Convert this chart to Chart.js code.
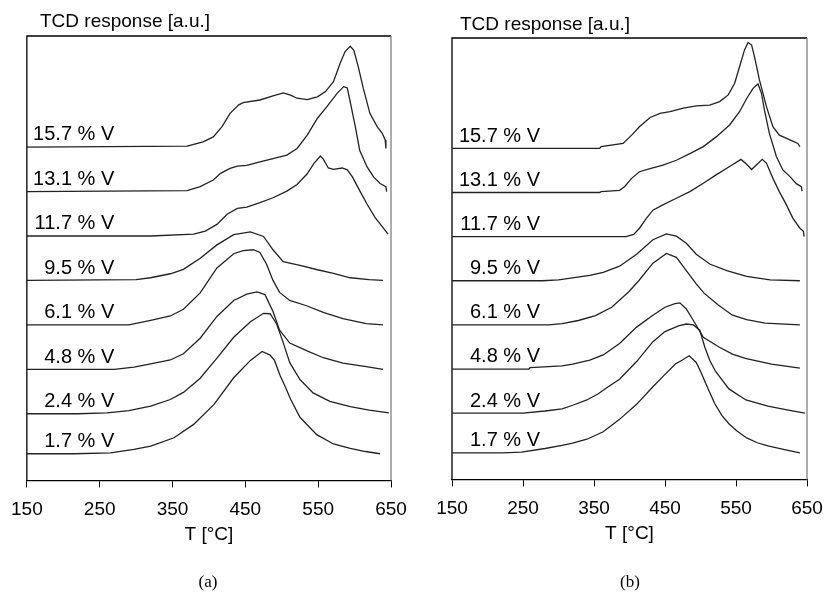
<!DOCTYPE html>
<html>
<head>
<meta charset="utf-8">
<title>TCD profiles</title>
<style>
  body { margin: 0; background: #fff; }
  #wrap { position: relative; width: 824px; height: 592px; overflow: hidden; }
  canvas { position: absolute; top: 0; }
  .ytitle { position: absolute; font: 19px/19px "Liberation Sans", Arial, sans-serif; color: #000; white-space: nowrap; }
  .cap { position: absolute; width: 40px; text-align: center; font: 17px/18px "Liberation Serif", "Times New Roman", serif; color: #000; }
</style>
</head>
<body>
<div id="wrap">
  <canvas id="chartA" width="420" height="592" style="left:0"></canvas>
  <canvas id="chartB" width="448" height="592" style="left:388px"></canvas>
  <div class="ytitle" style="left:40px; top:11px">TCD response [a.u.]</div>
  <div class="ytitle" style="left:460px; top:14px">TCD response [a.u.]</div>
  <div class="cap" style="left:188px; top:573px">(a)</div>
  <div class="cap" style="left:610px; top:573px">(b)</div>
</div>
<script src="https://cdn.jsdelivr.net/npm/chart.js@4.4.0/dist/chart.umd.min.js"></script>
<script>
// sample labels, bottom to top, and the vertical shift of each trace
const sampleLabels = ['1.7 % V', '2.4 % V', '4.8 % V', '6.1 % V', '9.5 % V', '11.7 % V', '13.1 % V', '15.7 % V'];
const offsets = [0.6, 1.5, 2.5, 3.5, 4.5, 5.5, 6.5, 7.5];
const xTicks = [150, 250, 350, 450, 550, 650];

// panel (a): [T in °C, signal above baseline]
const a17 = [[150,0],[215,0],[265,0.02],[297,0.1],[320,0.17],[352,0.36],[379,0.66],[407,1.11],[434,1.71],[457,2.1],[473,2.3],[484,2.22],[490,2.1],[498,1.75],[505,1.5],[512,1.23],[525,0.82],[548,0.43],[571,0.22],[594,0.12],[615,0.05],[635,0]];
const a24 = [[150,0],[220,0],[260,0.02],[290,0.07],[320,0.17],[347,0.32],[365,0.48],[388,0.8],[411,1.25],[434,1.72],[457,2.07],[475,2.26],[484,2.25],[493,2.02],[502,1.6],[511,1.15],[525,0.77],[543,0.47],[566,0.28],[594,0.16],[620,0.08],[647,0.02]];
const a48 = [[150,0],[270,0],[297,0.05],[320,0.12],[347,0.21],[365,0.35],[388,0.7],[411,1.19],[434,1.55],[452,1.69],[466,1.74],[477,1.68],[488,1.3],[497,0.88],[511,0.59],[534,0.42],[557,0.26],[584,0.14],[616,0.06],[639,0]];
const a61 = [[150,0],[290,0],[320,0.1],[347,0.2],[365,0.35],[388,0.72],[411,1.28],[434,1.6],[447,1.67],[461,1.69],[470,1.63],[479,1.37],[488,1.0],[497,0.73],[511,0.55],[534,0.43],[557,0.28],[584,0.14],[616,0.03],[639,0]];
const a95 = [[150,0],[300,0.02],[320,0.06],[347,0.15],[365,0.25],[388,0.5],[411,0.8],[434,1.03],[457,1.09],[475,0.99],[488,0.69],[502,0.42],[525,0.34],[549,0.24],[571,0.16],[594,0.06],[620,0.02],[639,0]];
const a117 = [[150,0],[320,0],[379,0.04],[395,0.11],[411,0.26],[425,0.49],[439,0.62],[452,0.65],[470,0.75],[488,0.86],[507,1.01],[521,1.16],[535,1.4],[544,1.63],[553,1.8],[557,1.73],[564,1.53],[571,1.5],[583,1.53],[590,1.49],[597,1.33],[607,1.02],[617,0.72],[628,0.42],[639,0.19],[646,0.04]];
const a131 = [[150,0],[370,0.02],[388,0.11],[406,0.26],[416,0.41],[429,0.52],[439,0.57],[452,0.59],[470,0.67],[488,0.74],[507,0.82],[521,0.97],[535,1.27],[549,1.65],[562,1.91],[576,2.21],[585,2.36],[590,2.33],[594,2.02],[601,1.46],[607,0.93],[617,0.56],[626,0.33],[635,0.18],[643,0.11],[644,0]];
const a157 = [[150,0],[370,0.02],[392,0.12],[406,0.23],[418,0.46],[429,0.76],[441,0.95],[447,1.0],[470,1.06],[488,1.15],[502,1.22],[512,1.17],[521,1.1],[535,1.07],[549,1.13],[560,1.25],[571,1.47],[580,1.88],[587,2.15],[594,2.27],[599,2.18],[605,1.81],[612,1.32],[621,0.76],[631,0.46],[638,0.31],[642,0.16],[643,-0.03]];

// panel (b)
const b17 = [[150,0],[220,0],[248,0.02],[281,0.1],[305,0.17],[320,0.22],[340,0.31],[363,0.48],[386,0.76],[410,1.1],[433,1.5],[450,1.78],[465,2.02],[474,2.1],[484,2.2],[494,2.05],[500,1.85],[508,1.55],[520,1.12],[530,0.85],[540,0.66],[551,0.5],[565,0.34],[580,0.23],[595,0.16],[620,0.07],[640,0]];
const b24 = [[150,0],[250,0],[281,0.05],[305,0.1],[320,0.18],[340,0.3],[356,0.44],[370,0.6],[386,0.77],[410,1.17],[433,1.62],[450,1.85],[469,1.98],[480,2.02],[490,2.0],[499,1.88],[506,1.5],[513,1.2],[521,0.95],[540,0.55],[564,0.3],[595,0.16],[620,0.08],[647,0]];
const b48 = [[150,0],[258,0],[260,0.03],[305,0.07],[320,0.11],[344,0.2],[363,0.32],[386,0.58],[410,0.95],[433,1.22],[450,1.4],[464,1.48],[471,1.5],[480,1.36],[490,1.1],[504,0.72],[526,0.5],[545,0.34],[563,0.24],[600,0.11],[640,0.02]];
const b61 = [[150,0],[286,0],[305,0.03],[328,0.1],[352,0.21],[375,0.4],[399,0.75],[413,1.0],[433,1.4],[452,1.62],[466,1.53],[480,1.23],[494,0.93],[505,0.72],[525,0.45],[545,0.22],[565,0.12],[591,0.04],[640,0]];
const b95 = [[150,0],[277,0],[300,0.02],[344,0.12],[363,0.19],[386,0.33],[410,0.6],[433,0.93],[452,1.06],[466,1.01],[480,0.85],[494,0.6],[513,0.38],[537,0.23],[565,0.1],[598,0.02],[640,0]];
const b117 = [[150,0],[395,0],[406,0.05],[414,0.19],[424,0.42],[433,0.6],[447,0.72],[466,0.87],[485,1.02],[504,1.21],[522,1.4],[541,1.59],[557,1.75],[565,1.64],[572,1.52],[579,1.63],[587,1.75],[593,1.66],[602,1.32],[611,1.02],[621,0.72],[630,0.42],[640,0.19],[645,0.12],[646,0]];
const b131 = [[150,0],[358,0],[360,0.02],[386,0.05],[393,0.13],[403,0.32],[414,0.47],[429,0.54],[447,0.62],[466,0.73],[485,0.88],[504,1.04],[522,1.26],[541,1.53],[555,1.83],[565,2.13],[574,2.36],[581,2.46],[586,2.24],[590,1.87],[597,1.34],[607,0.81],[616,0.51],[626,0.36],[635,0.2],[642,0.13],[643,0.03]];
const b157 = [[150,0],[358,0],[360,0.04],[391,0.11],[403,0.3],[414,0.49],[429,0.7],[443,0.79],[457,0.83],[476,0.91],[494,0.96],[513,0.98],[527,1.06],[539,1.21],[548,1.47],[555,1.85],[562,2.23],[567,2.4],[572,2.34],[576,2.08],[583,1.55],[593,0.94],[602,0.49],[611,0.3],[626,0.19],[637,0.11],[640,0.04]];

const seriesA = [a17, a24, a48, a61, a95, a117, a131, a157];
const seriesB = [b17, b24, b48, b61, b95, b117, b131, b157];

Chart.defaults.font.family = '"Liberation Sans", Arial, sans-serif';
Chart.defaults.font.size = 19;
Chart.defaults.color = '#000';

// box round the plot: black left/top, grey right
const framePlugin = {
  id: 'frame',
  beforeDatasetsDraw(chart) {
    const {ctx, chartArea: {left, top, right, bottom}} = chart;
    ctx.save();
    ctx.lineWidth = 1.3;
    ctx.strokeStyle = '#000';
    ctx.beginPath();
    ctx.moveTo(left, bottom);
    ctx.lineTo(left, top);
    ctx.lineTo(right, top);
    ctx.stroke();
    ctx.strokeStyle = '#808080';
    ctx.beginPath();
    ctx.moveTo(right, top);
    ctx.lineTo(right, bottom);
    ctx.stroke();
    ctx.restore();
  }
};

// "x % V" text sitting on each trace's baseline
const labelPlugin = {
  id: 'curveLabels',
  afterDatasetsDraw(chart, args, opts) {
    const {ctx, scales: {x, y}} = chart;
    ctx.save();
    ctx.font = '20px "Liberation Sans", Arial, sans-serif';
    ctx.fillStyle = '#000';
    ctx.textAlign = 'right';
    ctx.textBaseline = 'alphabetic';
    sampleLabels.forEach((txt, i) => {
      ctx.fillText(txt, x.getPixelForValue(opts.at), y.getPixelForValue(offsets[i] + opts.lift));
    });
    ctx.restore();
  }
};

function makeChart(id, series, pad, labelAt) {
  const datasets = series.map((pts, i) => ({
    label: sampleLabels[i],
    data: pts.map(p => ({x: p[0], y: p[1] + offsets[i]})),
    borderColor: '#222',
    borderWidth: 1.3,
    pointRadius: 0,
    tension: 0,
    fill: false
  }));
  return new Chart(document.getElementById(id), {
    type: 'line',
    data: {datasets},
    plugins: [framePlugin, labelPlugin],
    options: {
      responsive: false,
      animation: false,
      layout: {padding: pad},
      plugins: {
        legend: {display: false},
        tooltip: {enabled: false},
        curveLabels: {at: labelAt, lift: 0.15}
      },
      scales: {
        x: {
          type: 'linear',
          min: 150,
          max: 650,
          afterBuildTicks: axis => { axis.ticks = xTicks.map(v => ({value: v})); },
          grid: {drawOnChartArea: false, drawTicks: true, tickLength: 7, color: '#000'},
          border: {display: true, color: '#000', width: 1.3},
          ticks: {padding: 11, color: '#000', maxRotation: 0},
          title: {display: true, text: 'T [°C]', color: '#000', padding: {top: -9, bottom: 0}}
        },
        y: {
          display: false,
          min: 0,
          max: 10
        }
      }
    }
  });
}

makeChart('chartA', seriesA, {left: 26, right: 29, top: 36, bottom: 46}, 270);
makeChart('chartB', seriesB, {left: 64, right: 29, top: 38, bottom: 47}, 274);
</script>
</body>
</html>
